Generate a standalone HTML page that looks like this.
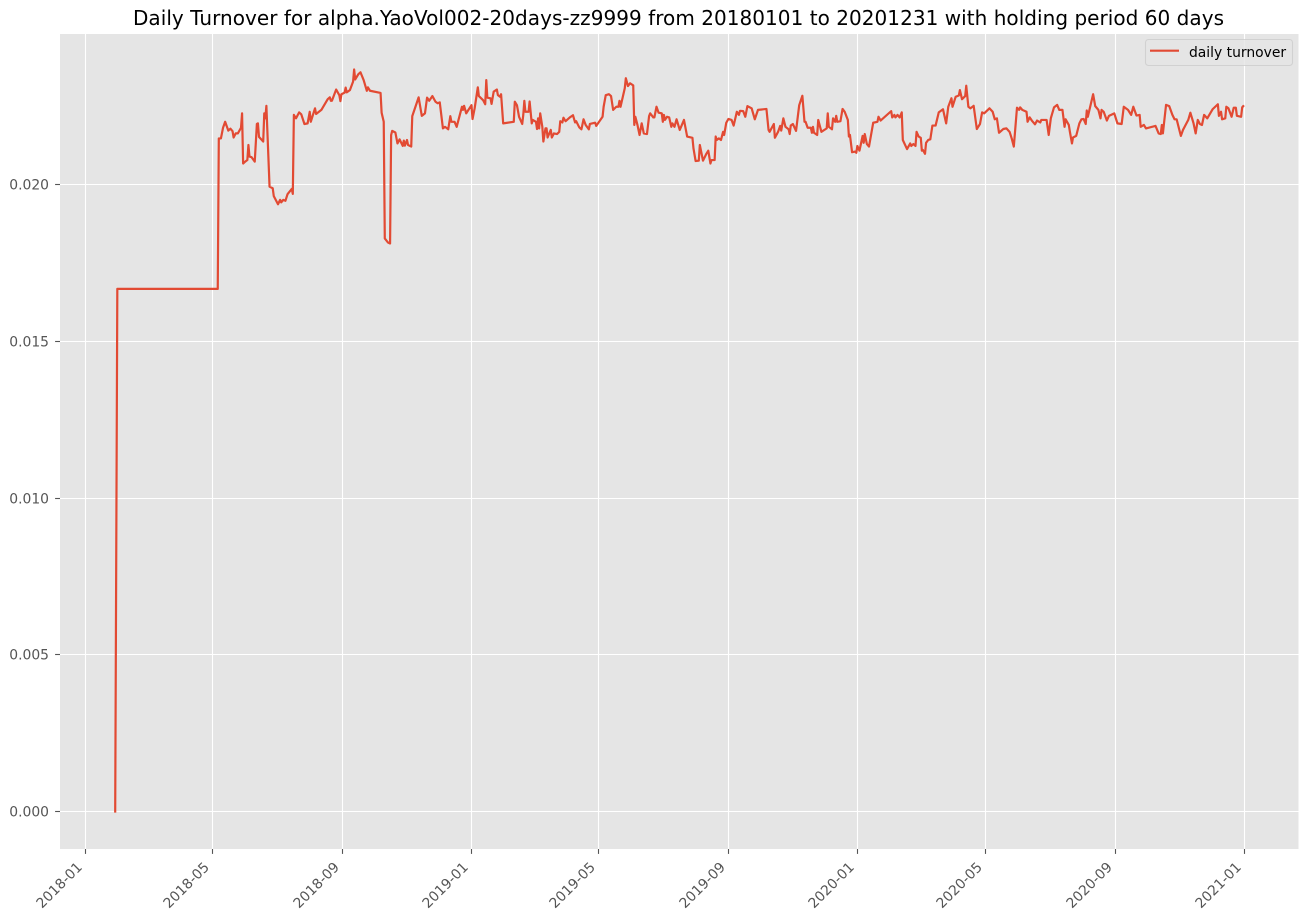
<!DOCTYPE html>
<html>
<head>
<meta charset="utf-8">
<title>Daily Turnover</title>
<style>
html,body{margin:0;padding:0;background:#fff;width:1309px;height:919px;overflow:hidden}
svg{display:block}
text{font-family:"DejaVu Sans","Liberation Sans",sans-serif}
</style>
</head>
<body>
<svg id="chart" width="1309" height="919" viewBox="0 0 1309 919" xmlns="http://www.w3.org/2000/svg">
  <rect x="60" y="34" width="1238.5" height="815" fill="#E5E5E5"></rect>
  <g id="grid"></g>
  <g id="ticks"></g>
  <path id="series" fill="none" stroke="#E24A33" stroke-width="2.2" stroke-linejoin="round" stroke-linecap="square"></path>
  <text x="133" y="25" font-size="20" fill="#000" textLength="1091" lengthAdjust="spacing">Daily Turnover for alpha.YaoVol002-20days-zz9999 from 20180101 to 20201231 with holding period 60 days</text>
  <g>
    <rect x="1145.5" y="39.5" width="147" height="26" rx="3" ry="3" fill="#E5E5E5" fill-opacity="0.8" stroke="#CCCCCC" stroke-opacity="0.8" stroke-width="1.1"></rect>
    <line x1="1150" y1="50.7" x2="1179" y2="50.7" stroke="#E24A33" stroke-width="2.08"></line>
    <text x="1189" y="57" font-size="13.89" fill="#000">daily turnover</text>
  </g>
</svg>
<script>
const startDate = "2018-01-01";
const xTickLabels = ["2018-01","2018-05","2018-09","2019-01","2019-05","2019-09","2020-01","2020-05","2020-09","2021-01"];
const yTickValues = [0, 0.005, 0.010, 0.015, 0.020];
const yTickLabels = ["0.000","0.005","0.010","0.015","0.020"];
const dayOffsets = [
28,30,125,126,128,130,132,135,137,139,
140,142,144,147,148,149,151,153,154,155,
157,160,162,163,164,168,169,170,171,174,
177,178,182,184,185,187,189,191,195,196,
197,199,202,204,207,210,212,213,217,218,
223,229,231,232,233,237,240,241,242,245,
246,247,250,253,254,255,258,260,263,266,
267,269,279,280,282,283,286,288,289,290,
293,295,297,300,301,302,304,305,308,309,
312,315,318,321,323,325,328,331,333,335,
338,340,343,345,346,349,351,356,357,358,
360,365,366,368,371,372,376,378,379,380,
383,384,386,389,390,392,393,395,405,406,
408,410,413,414,415,416,419,420,422,423,
426,427,428,429,430,432,433,435,436,437,
440,441,443,446,448,449,451,452,454,458,
461,463,464,467,469,471,473,476,477,482,
483,489,490,492,495,497,499,502,504,505,
506,510,511,513,515,518,519,520,522,524,
526,528,531,533,534,537,538,540,542,545,
546,547,548,550,552,554,555,557,559,562,
566,569,574,575,577,580,581,584,587,589,
591,592,595,596,597,599,601,603,604,606,
608,611,613,616,618,619,622,624,626,630,
633,636,644,646,647,651,652,655,657,658,
660,662,665,666,667,669,672,675,678,680,
681,683,686,687,688,689,692,693,696,701,
702,703,706,707,709,710,711,714,716,718,
721,722,723,725,728,729,730,732,735,736,
737,739,741,745,749,750,752,762,763,765,
766,768,770,772,773,777,780,781,783,785,
786,788,790,791,792,794,795,797,799,801,
804,807,811,814,816,819,820,823,826,827,
829,832,833,835,837,840,843,846,848,850,
855,858,860,862,864,868,871,874,876,878,
881,883,884,886,890,891,893,895,898,900,
903,904,909,911,913,916,919,921,924,926,
927,930,931,933,934,937,940,942,944,946,
947,948,951,953,955,958,960,961,963,966,
968,973,976,980,982,986,989,991,994,997,
998,1001,1003,1012,1015,1017,1018,1019,1022,1025,
1028,1030,1032,1036,1038,1043,1045,1048,1050,1052,
1054,1056,1058,1061,1066,1071,1072,1074,1075,1078,
1079,1081,1084,1086,1088,1089,1093,1094,1095
];
const dailyTurnover = [
0,0.01667,0.01667,0.02147,0.02147,0.02181,0.02200,0.02172,0.02178,0.02170,
0.02150,0.02163,0.02163,0.02181,0.02227,0.02067,0.02073,0.02078,0.02126,0.02089,
0.02087,0.02073,0.02193,0.02195,0.02152,0.02137,0.02227,0.02211,0.02251,0.01993,
0.01988,0.01963,0.01937,0.01951,0.01943,0.01951,0.01948,0.01969,0.01986,0.01970,
0.02222,0.02211,0.02230,0.02224,0.02193,0.02195,0.02232,0.02200,0.02243,0.02225,
0.02238,0.02272,0.02278,0.02267,0.02267,0.02303,0.02285,0.02266,0.02288,0.02293,
0.02309,0.02294,0.02301,0.02328,0.02367,0.02335,0.02352,0.02358,0.02333,0.02299,
0.02310,0.02299,0.02292,0.02229,0.02200,0.01828,0.01815,0.01812,0.02158,0.02171,
0.02166,0.02131,0.02144,0.02123,0.02140,0.02124,0.02142,0.02126,0.02121,0.02218,
0.02248,0.02278,0.02219,0.02227,0.02277,0.02267,0.02282,0.02264,0.02259,0.02262,
0.02179,0.02184,0.02176,0.02218,0.02200,0.02200,0.02184,0.02248,0.02238,0.02251,
0.02227,0.02253,0.02209,0.02243,0.02310,0.02282,0.02269,0.02256,0.02333,0.02277,
0.02275,0.02257,0.02296,0.02303,0.02285,0.02280,0.02288,0.02195,0.02200,0.02264,
0.02253,0.02216,0.02193,0.02222,0.02267,0.02232,0.02232,0.02265,0.02195,0.02206,
0.02200,0.02177,0.02211,0.02179,0.02227,0.02184,0.02137,0.02179,0.02179,0.02150,
0.02174,0.02150,0.02163,0.02161,0.02168,0.02202,0.02198,0.02213,0.02202,0.02214,
0.02221,0.02198,0.02202,0.02182,0.02176,0.02208,0.02190,0.02176,0.02193,0.02197,
0.02187,0.02216,0.02248,0.02285,0.02288,0.02282,0.02238,0.02248,0.02248,0.02267,
0.02248,0.02307,0.02339,0.02314,0.02323,0.02316,0.02190,0.02216,0.02190,0.02158,
0.02195,0.02163,0.02161,0.02218,0.02227,0.02214,0.02214,0.02248,0.02229,0.02227,
0.02200,0.02222,0.02206,0.02216,0.02214,0.02184,0.02195,0.02184,0.02208,0.02174,
0.02206,0.02153,0.02149,0.02115,0.02075,0.02076,0.02126,0.02076,0.02097,0.02108,
0.02067,0.02078,0.02078,0.02153,0.02142,0.02147,0.02142,0.02168,0.02158,0.02197,
0.02209,0.02206,0.02188,0.02232,0.02222,0.02235,0.02234,0.02216,0.02250,0.02243,
0.02208,0.02238,0.02241,0.02174,0.02168,0.02193,0.02149,0.02168,0.02187,0.02172,
0.02211,0.02184,0.02176,0.02161,0.02188,0.02193,0.02171,0.02253,0.02283,0.02200,
0.02200,0.02181,0.02181,0.02165,0.02184,0.02165,0.02158,0.02206,0.02168,0.02179,
0.02227,0.02184,0.02176,0.02211,0.02200,0.02219,0.02200,0.02202,0.02241,0.02232,
0.02206,0.02153,0.02158,0.02103,0.02105,0.02101,0.02123,0.02108,0.02155,0.02133,
0.02161,0.02129,0.02121,0.02197,0.02200,0.02216,0.02204,0.02234,0.02214,0.02222,
0.02214,0.02222,0.02214,0.02230,0.02142,0.02113,0.02131,0.02123,0.02129,0.02123,
0.02168,0.02153,0.02149,0.02108,0.02110,0.02098,0.02133,0.02142,0.02144,0.02188,
0.02188,0.02230,0.02240,0.02195,0.02248,0.02275,0.02248,0.02280,0.02284,0.02301,
0.02272,0.02282,0.02315,0.02248,0.02243,0.02251,0.02177,0.02193,0.02230,0.02227,
0.02243,0.02232,0.02208,0.02211,0.02165,0.02177,0.02179,0.02168,0.02147,0.02121,
0.02245,0.02238,0.02246,0.02238,0.02232,0.02200,0.02214,0.02204,0.02192,0.02204,
0.02198,0.02206,0.02206,0.02158,0.02211,0.02246,0.02254,0.02238,0.02238,0.02184,
0.02208,0.02190,0.02169,0.02131,0.02150,0.02155,0.02195,0.02208,0.02209,0.02193,
0.02236,0.02216,0.02259,0.02288,0.02250,0.02238,0.02211,0.02238,0.02232,0.02204,
0.02219,0.02227,0.02195,0.02193,0.02248,0.02238,0.02222,0.02248,0.02220,0.02222,
0.02184,0.02190,0.02179,0.02187,0.02163,0.02161,0.02190,0.02163,0.02254,0.02250,
0.02222,0.02208,0.02208,0.02155,0.02174,0.02206,0.02229,0.02195,0.02163,0.02206,
0.02193,0.02190,0.02222,0.02211,0.02240,0.02256,0.02219,0.02232,0.02208,0.02211,
0.02248,0.02243,0.02216,0.02245,0.02245,0.02219,0.02216,0.02246,0.02250
];

const SVG_NS = "http://www.w3.org/2000/svg";
const startMs = Date.parse(startDate + "T00:00:00Z");
function xScale(day) { return 85.6 + 1.0572 * day; }
function yScale(value) { return 811.5 - 31350 * value; }
function snap(p) { return Math.floor(p) + 0.5; }
function monthToDay(label) { return (Date.parse(label + "-01T00:00:00Z") - startMs) / 86400000; }
function make(tag, attrs) {
  const el = document.createElementNS(SVG_NS, tag);
  for (const k in attrs) el.setAttribute(k, attrs[k]);
  return el;
}
const gridLayer = document.getElementById("grid");
const tickLayer = document.getElementById("ticks");

xTickLabels.forEach(function (label) {
  const x = snap(xScale(monthToDay(label)));
  const grid = make("line", { x1: x, x2: x, y1: 34, y2: 849, stroke: "#fff", "stroke-width": 1.11 });
  
  
  gridLayer.appendChild(grid);
  const tick = make("line", { x1: x, x2: x, y1: 849, y2: 853.9, stroke: "#555555", "stroke-width": 1.11 });
  
  
  tickLayer.appendChild(tick);
  const ax = x - 2.5, ay = 868;
  const text = make("text", { x: ax, y: ay, "font-size": 13.89, fill: "#555555", "text-anchor": "end", transform: "rotate(-45 " + ax + " " + ay + ")" });
  text.textContent = label;
  
  
  tickLayer.appendChild(text);
});

yTickValues.forEach(function (value, i) {
  const y = snap(yScale(value));
  const grid = make("line", { x1: 60, x2: 1298.5, y1: y, y2: y, stroke: "#fff", "stroke-width": 1.11 });
  
  
  gridLayer.appendChild(grid);
  const tick = make("line", { x1: 55.1, x2: 60, y1: y, y2: y, stroke: "#555555", "stroke-width": 1.11 });
  
  
  tickLayer.appendChild(tick);
  const text = make("text", { x: 49, y: y + 5, "font-size": 13.89, fill: "#555555", "text-anchor": "end" });
  text.textContent = yTickLabels[i];
  
  
  tickLayer.appendChild(text);
});

let pathData = "";
const pointCount = Math.min(dayOffsets.length, dailyTurnover.length);
for (let i = 0; i < pointCount; i++) {
  pathData += (i ? "L" : "M") + xScale(dayOffsets[i]).toFixed(2) + " " + yScale(dailyTurnover[i]).toFixed(2);
}
document.getElementById("series").setAttribute("d", pathData);
</script>
</body>
</html>
